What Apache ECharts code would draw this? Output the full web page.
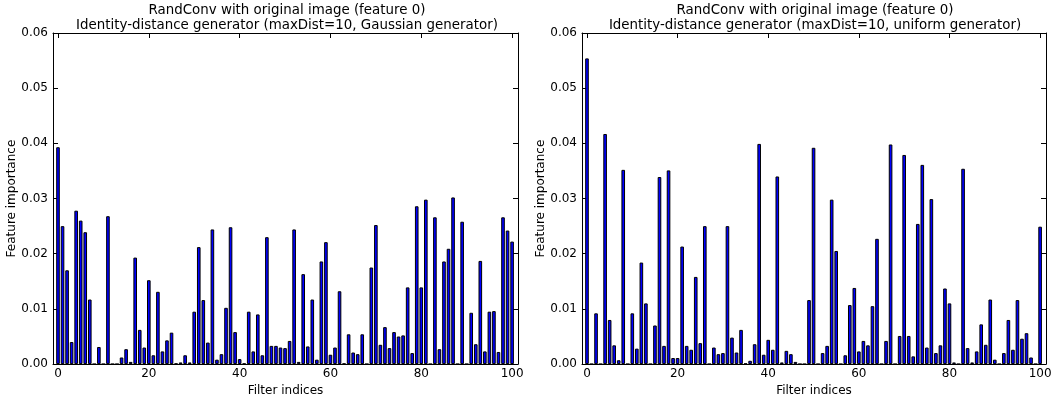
<!DOCTYPE html>
<html>
<head>
<meta charset="utf-8">
<script src="https://cdn.jsdelivr.net/npm/echarts@6/dist/echarts.min.js"></script>
<style>
  html, body { margin: 0; padding: 0; background: #fff; }
  #chart { width: 1056px; height: 402px; }
</style>
</head>
<body>
<div id="chart"></div>
<script>
// feature importance per filter (index 0..100)
var gaussianImportance = [
  0.0393, 0.0250, 0.0170, 0.0040, 0.0278, 0.0260, 0.0239, 0.0117, 0, 0.0031,
  0, 0.0268, 0, 0, 0.0012, 0.0027, 0.0004, 0.0193, 0.0062, 0.0030,
  0.0152, 0.0016, 0.0131, 0.0023, 0.0043, 0.0057, 0.0001, 0.0003, 0.0016, 0.0003,
  0.0095, 0.0212, 0.0116, 0.0039, 0.0244, 0.0008, 0.0018, 0.0102, 0.0248, 0.0058,
  0.0009, 0.0001, 0.0095, 0.0023, 0.0090, 0.0016, 0.0230, 0.0033, 0.0033, 0.0030,
  0.0029, 0.0042, 0.0244, 0.0004, 0.0163, 0.0032, 0.0117, 0.0008, 0.0186, 0.0221,
  0.0017, 0.0030, 0.0132, 0.0001, 0.0054, 0.0021, 0.0018, 0.0054, 0, 0.0175,
  0.0252, 0.0035, 0.0067, 0.0029, 0.0058, 0.0050, 0.0052, 0.0139, 0.0020, 0.0286,
  0.0139, 0.0298, 0, 0.0266, 0.0027, 0.0186, 0.0209, 0.0302, 0, 0.0258,
  0, 0.0093, 0.0036, 0.0187, 0.0023, 0.0095, 0.0096, 0.0022, 0.0266, 0.0242,
  0.0222
]
var uniformImportance = [
  0.0554, 0, 0.0092, 0, 0.0417, 0.0080, 0.0034, 0.0007, 0.0352, 0,
  0.0092, 0.0028, 0.0184, 0.0110, 0, 0.0070, 0.0339, 0.0033, 0.0351, 0.0011,
  0.0011, 0.0213, 0.0033, 0.0026, 0.0158, 0.0038, 0.0250, 0, 0.0030, 0.0018,
  0.0020, 0.0250, 0.0048, 0.0021, 0.0062, 0.0001, 0.0006, 0.0036, 0.0399, 0.0017,
  0.0044, 0.0026, 0.0340, 0.0003, 0.0024, 0.0018, 0.0004, 0, 0, 0.0116,
  0.0392, 0, 0.0020, 0.0033, 0.0298, 0.0205, 0, 0.0016, 0.0107, 0.0138,
  0.0023, 0.0042, 0.0034, 0.0105, 0.0227, 0, 0.0042, 0.0398, 0, 0.0051,
  0.0379, 0.0051, 0.0014, 0.0254, 0.0361, 0.0030, 0.0299, 0.0020, 0.0034, 0.0137,
  0.0110, 0.0003, 0, 0.0354, 0.0029, 0.0003, 0.0023, 0.0072, 0.0035, 0.0117,
  0.0008, 0, 0.0020, 0.0080, 0.0026, 0.0116, 0.0046, 0.0056, 0.0012, 0,
  0.0249
]
var xTicks = [0, 20, 40, 60, 80, 100]
var titles = [
  'RandConv with original image (feature 0)\nIdentity-distance generator (maxDist=10, Gaussian generator)',
  'RandConv with original image (feature 0)\nIdentity-distance generator (maxDist=10, uniform generator)'
]
var xName = 'Filter indices'
var yName = 'Feature importance'

var FONT = 'DejaVu Sans'

function toPoints(values) {
  return values.map(function(v, i) { return [i, v] })
}

// bottom/left axes carry labels, top/right ones only mirror the ticks (matplotlib box)
function xAxes(gridIndex) {
  var base = {
    type: 'value',
    gridIndex: gridIndex,
    min: -1.1,
    max: 101.3,
    axisLine: { show: true, onZero: false, lineStyle: { color: '#000', width: 1 } },
    axisTick: { show: true, inside: true, length: 5, customValues: xTicks, lineStyle: { color: '#000' } },
    splitLine: { show: false }
  }
  var bottom = Object.assign({}, base, {
    position: 'bottom',
    name: xName,
    nameLocation: 'middle',
    nameGap: 20,
    nameTextStyle: { color: '#000', fontFamily: FONT, fontSize: 12 },
    axisLabel: { customValues: xTicks, color: '#000', fontFamily: FONT, fontSize: 12, margin: 4 }
  })
  var top = Object.assign({}, base, {
    position: 'top',
    axisLabel: { show: false }
  })
  return [bottom, top]
}

function yAxes(gridIndex) {
  var base = {
    type: 'value',
    gridIndex: gridIndex,
    min: 0,
    max: 0.06,
    interval: 0.01,
    axisLine: { show: true, onZero: false, lineStyle: { color: '#000', width: 1 } },
    axisTick: { show: true, inside: true, length: 5, lineStyle: { color: '#000' } },
    splitLine: { show: false }
  }
  var left = Object.assign({}, base, {
    position: 'left',
    name: yName,
    nameLocation: 'middle',
    nameGap: 30,
    nameTextStyle: { color: '#000', fontFamily: FONT, fontSize: 12 },
    axisLabel: {
      color: '#000', fontFamily: FONT, fontSize: 12, margin: 5,
      formatter: function(v) { return v.toFixed(2) }
    }
  })
  var right = Object.assign({}, base, {
    position: 'right',
    axisLabel: { show: false }
  })
  return [left, right]
}

function barSeries(values, axisIndex) {
  return {
    type: 'bar',
    xAxisIndex: axisIndex,
    yAxisIndex: axisIndex,
    data: toPoints(values),
    barWidth: 3.6,
    itemStyle: { color: '#0000ff', borderColor: '#000', borderWidth: 1 },
    silent: true,
    animation: false
  }
}

var chart = echarts.init(document.getElementById('chart'), null, { renderer: 'canvas' })
chart.setOption({
  animation: false,
  backgroundColor: '#fff',
  title: [
    {
      text: titles[0],
      left: 282,
      top: -2,
      textAlign: 'center',
      textStyle: { color: '#000', fontFamily: FONT, fontSize: 13.4, fontWeight: 'normal', lineHeight: 15 }
    },
    {
      text: titles[1],
      left: 810,
      top: -2,
      textAlign: 'center',
      textStyle: { color: '#000', fontFamily: FONT, fontSize: 13.4, fontWeight: 'normal', lineHeight: 15 }
    }
  ],
  grid: [
    { left: 53, right: 538, top: 33, bottom: 35.5 },
    { left: 582, right: 10, top: 33, bottom: 35.5 }
  ],
  xAxis: xAxes(0).concat(xAxes(1)),
  yAxis: yAxes(0).concat(yAxes(1)),
  series: [
    barSeries(gaussianImportance, 0),
    barSeries(uniformImportance, 2)
  ]
})
</script>
</body>
</html>
